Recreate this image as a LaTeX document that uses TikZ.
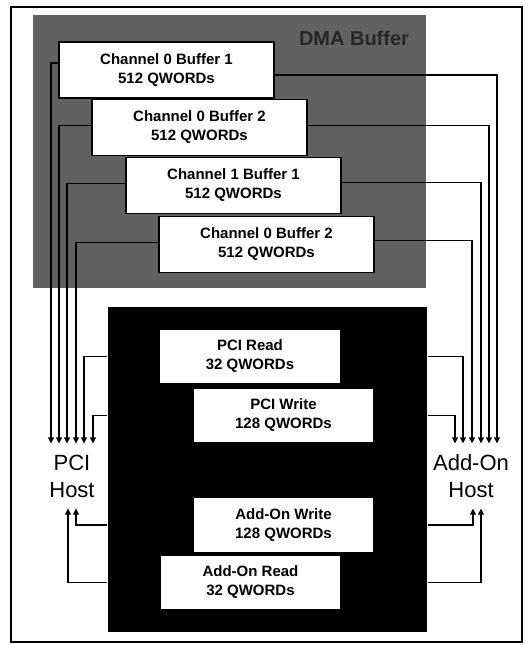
\documentclass[tikz,border=0pt]{standalone}
\usepackage{fontspec}
\setmainfont{Liberation Sans}
\usetikzlibrary{arrows.meta,positioning,calc}

\begin{document}
\begin{tikzpicture}[x=1pt,y=-1pt,line width=1.3pt,
 buf/.style={draw,fill=white,align=center,inner sep=0pt,minimum width=215,minimum height=56,font=\bfseries\fontsize{15}{19}\selectfont},
 fbox/.style={buf,minimum width=181,minimum height=55},
 host/.style={align=center,inner sep=0pt,minimum height=64,font=\fontsize{22}{27}\selectfont},
 link/.style={-{Triangle[length=6pt,width=6pt]}}]
\useasboundingbox (0,0) rectangle (528,645);
\draw (11,7) rectangle (522,642);
% DMA buffer area
\node[fill=black!62,minimum width=393,minimum height=273,inner sep=0pt] (dma) at (229.5,151.5) {};
\node[font=\bfseries\fontsize{20}{22}\selectfont,text=black!85] (dmalbl) at (354,38) {DMA Buffer};
\foreach \id/\x/\y/\name in {b1/166.5/70/Channel 0 Buffer 1,b2/199.5/127.5/Channel 0 Buffer 2,b3/233.5/185.5/Channel 1 Buffer 1,b4/266.5/244.5/Channel 0 Buffer 2}{
\node[buf] (\id) at (\x,\y) {\name\\512 QWORDs};}
% FIFOs
\node[fill=black,minimum width=319,minimum height=325,inner sep=0pt] (fifo) at (267.5,469.5) {};
\node[fbox] (pcird) at (250,356.5) {PCI Read\\32 QWORDs};
\node[fbox] (pciwr) at (283.5,415.5) {PCI Write\\128 QWORDs};
\node[fbox] (aowr) at (283.5,525) {Add-On Write\\128 QWORDs};
\node[fbox] (aord) at (250.5,582.5) {Add-On Read\\32 QWORDs};
% hosts
\node[host] (pcihost) at (72,476) {PCI\\Host};
\node[host] (addonhost) at (471,476) {Add-On\\Host};
% buffer links
\foreach \b/\l/\r/\ly/\ry in {b1/-21/26/7/-5,b2/-13/18/2/2,b3/-5/10/2/3,b4/4/1/2/4}{
\draw[link] ([yshift=\ly]\b.west) -| ([xshift=\l]pcihost.north);
\draw[link] ([yshift=\ry]\b.east) -| ([xshift=\r]addonhost.north);}
% fifo links
\draw[link] (fifo.west |- pcird) -| ([xshift=12]pcihost.north);
\draw[link] (fifo.west |- pciwr) -| ([xshift=21]pcihost.north);
\draw[link] (fifo.east |- pcird) -| ([xshift=-8]addonhost.north);
\draw[link] (fifo.east |- pciwr) -| ([xshift=-16]addonhost.north);
\draw[link] (fifo.west |- aowr) -| ([xshift=4]pcihost.south);
\draw[link] (fifo.west |- aord) -| ([xshift=-4]pcihost.south);
\draw[link] (fifo.east |- aowr) -| ([xshift=2]addonhost.south);
\draw[link] (fifo.east |- aord) -| ([xshift=10]addonhost.south);
\end{tikzpicture}
\end{document}
